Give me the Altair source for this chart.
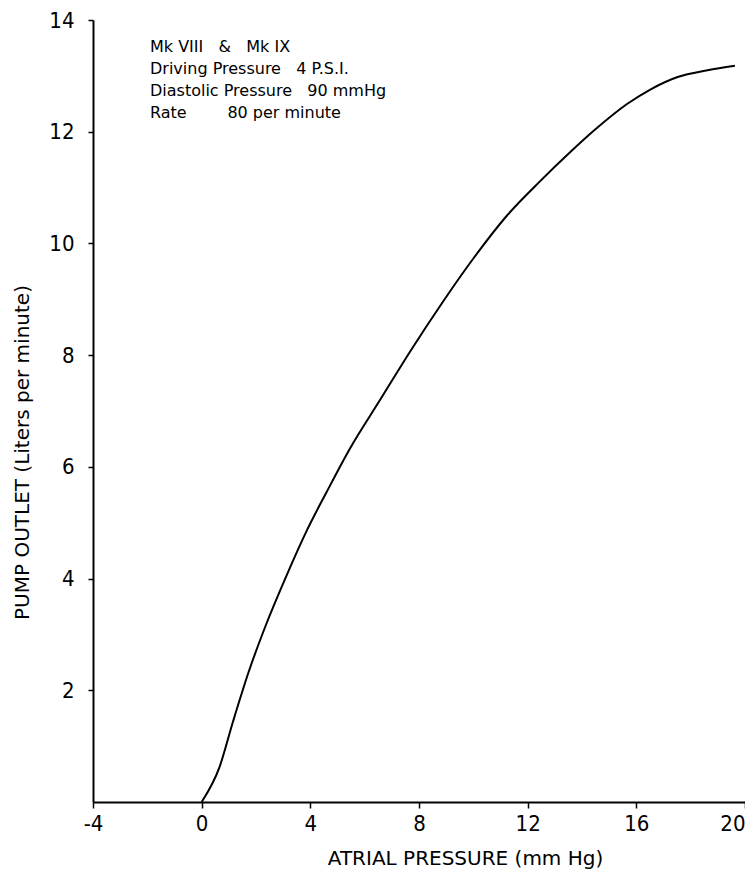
import altair as alt
import pandas as pd

# Curve
atrial = [0, 0.66, 1.16, 1.71, 2.39, 3.12, 3.86, 4.6, 5.46, 6.57, 7.68, 8.9,
          10.0, 11.24, 12.47, 13.58, 14.44, 15.67, 16.53, 17.52, 18.62, 19.63]
outlet = [0, 0.63, 1.45, 2.3, 3.2, 4.05, 4.85, 5.55, 6.33, 7.2, 8.07, 8.97,
          9.73, 10.5, 11.12, 11.64, 12.02, 12.5, 12.76, 12.98, 13.1, 13.18]

x_ticks = [-4, 0, 4, 8, 12, 16, 20]
y_ticks = [2, 4, 6, 8, 10, 12, 14]

NB = "\u00a0"
notes = [
    "Mk VIII" + NB * 3 + "&" + NB * 3 + "Mk IX",
    "Driving Pressure" + NB * 3 + "4 P.S.I.",
    "Diastolic Pressure" + NB * 3 + "90 mmHg",
    "Rate" + NB * 8 + "80 per minute",
]

df = pd.DataFrame({"atrial": atrial, "outlet": outlet})

NARROW = "Liberation Sans Narrow, DejaVu Sans Condensed, Roboto Condensed, Liberation Sans, sans-serif"
WIDE = "DejaVu Sans, Verdana, sans-serif"

xenc = alt.X(
    "atrial:Q",
    scale=alt.Scale(domain=[-4, 20], nice=False, zero=False),
    axis=alt.Axis(
        values=x_ticks, title="ATRIAL PRESSURE  (mm Hg)", grid=False,
        labelExpr="'' + datum.value",
        labelAlign={"condition": {"test": "datum.value == 20", "value": "right"},
                    "value": "center"},
        domainColor="black", domainWidth=2, tickColor="black", tickWidth=1.5,
        tickSize=6, labelPadding=5, labelFontSize=22, labelFont=NARROW,
        labelColor="black", titleFont=WIDE, titleFontSize=20, titleFontWeight="normal",
        titleColor="black", titleX=372, titleY=62, titleBaseline="alphabetic",
        titleAnchor="middle", titleAlign="center", labelFlush=False,
    ),
)
yenc = alt.Y(
    "outlet:Q",
    scale=alt.Scale(domain=[0, 14], nice=False, zero=True),
    axis=alt.Axis(
        values=y_ticks, title="PUMP OUTLET  (Liters per minute)", grid=False,
        domainColor="black", domainWidth=2, tickColor="black", tickWidth=1.5,
        tickSize=5, labelPadding=14, labelFontSize=22, labelFont=NARROW,
        labelColor="black", titleFont=WIDE, titleFontSize=20, titleFontWeight="normal",
        titleColor="black", titleX=-71, titleY=432, titleAngle=-90,
        titleAlign="center", titleBaseline="middle", labelFlush=False,
    ),
)

line = alt.Chart(df).mark_line(
    color="black", strokeWidth=2, interpolate="monotone"
).encode(x=xenc, y=yenc)

text = alt.Chart(pd.DataFrame({"k": [0]})).mark_text(
    align="left", baseline="alphabetic", font=WIDE, fontSize=16,
    lineHeight=22, color="black",
).encode(x=alt.value(57), y=alt.value(32), text=alt.value(notes))

chart = (
    alt.layer(line, text)
    .properties(
        width=652, height=782,
        autosize=alt.AutoSizeParams(type="none"),
        padding={"left": 85, "top": 12, "right": 0, "bottom": 68},
        view=alt.ViewBackground(stroke="transparent", strokeWidth=0, strokeOpacity=0),
    )
    .configure_view(stroke="transparent", strokeWidth=0, strokeOpacity=0)
    .configure_axis(grid=False)
    .configure(background="white")
)

chart.save("out.html", embed_options={"renderer": "svg", "actions": False})
